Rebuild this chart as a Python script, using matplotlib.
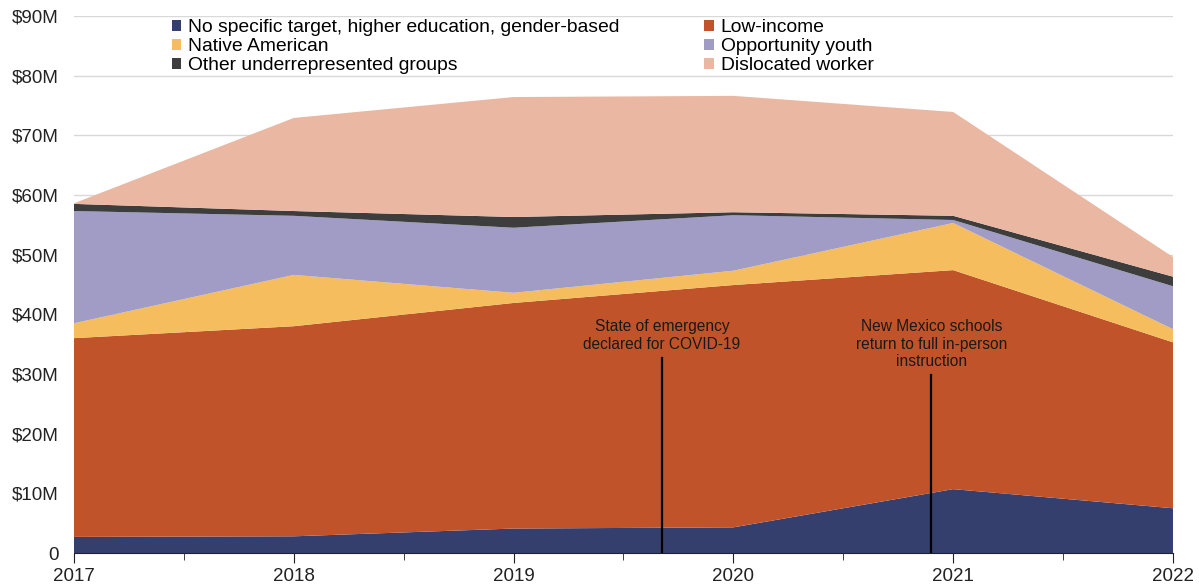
import matplotlib.pyplot as plt
from matplotlib.patches import Patch
from matplotlib.ticker import FuncFormatter, MultipleLocator

plt.rcParams['font.family'] = ['Liberation Sans', 'DejaVu Sans']

years = [2017, 2018, 2019, 2020, 2021, 2022]

# funding by target population, $M
no_specific = [2.7, 2.8, 4.1, 4.3, 10.7, 7.5]
low_income = [33.3, 35.2, 37.8, 40.6, 36.7, 27.8]
native_american = [2.5, 8.6, 1.7, 2.4, 7.9, 2.2]
opportunity_youth = [18.8, 9.9, 10.9, 9.3, 0.5, 7.2]
other_groups = [1.2, 0.8, 1.8, 0.5, 0.7, 1.6]
dislocated_worker = [0.1, 15.6, 20.1, 19.5, 17.4, 3.3]

labels = ["No specific target, higher education, gender-based", "Low-income",
          "Native American", "Opportunity youth",
          "Other underrepresented groups", "Dislocated worker"]
colors = ["#343f6e", "#c0532a", "#f5bd5e", "#a09cc5", "#3d3d3d", "#eab8a2"]

events = [(2019.675, 32.7, "State of emergency\ndeclared for COVID-19"),
          (2020.9, 29.8, "New Mexico schools\nreturn to full in-person\ninstruction")]

fig = plt.figure(figsize=(11.99, 5.88), dpi=100)
ax = fig.add_axes([0.0617, 0.0595, 0.9166, 0.9135])

series = [no_specific, low_income, native_american, opportunity_youth,
          other_groups, dislocated_worker]
ax.stackplot(years, *series, colors=colors, linewidth=0)

ax.set_xlim(2017, 2022)
ax.set_ylim(0, 90)
ax.yaxis.set_major_locator(MultipleLocator(10))
ax.yaxis.set_major_formatter(FuncFormatter(lambda v, p: "0" if v == 0 else f"${v:.0f}M"))
ax.set_xticks(years)
ax.xaxis.set_minor_locator(MultipleLocator(0.5))
ax.grid(axis='y', color='#d9d9d9', linewidth=1)
ax.set_axisbelow(True)

for s in ['top', 'right', 'left']:
    ax.spines[s].set_visible(False)
ax.spines['bottom'].set_color('#222222')
ax.tick_params(axis='y', length=0, labelsize=13.5, pad=11, colors='#222222')
ax.tick_params(axis='x', which='major', length=7, direction='out', labelsize=13.5,
               pad=4, colors='#222222')
ax.tick_params(axis='x', which='minor', length=5, direction='out', colors='#222222')

for x, top, txt in events:
    ax.plot([x, x], [0, top], color='black', linewidth=1.6, zorder=3)
    ax.text(x, top + 1.0, txt, ha='center', va='bottom', fontsize=11.2,
            color='#1a1a1a', linespacing=1.2, zorder=3)

order = [0, 2, 4, 1, 3, 5]
handles = [Patch(facecolor=colors[i], label=labels[i]) for i in order]
ax.legend(handles=handles, ncol=2, loc='upper left', bbox_to_anchor=(0.08, 1.012),
          frameon=False, fontsize=13.9, handlelength=0.5, handleheight=0.5,
          handletextpad=0.35, columnspacing=4.4, labelspacing=0.1, borderpad=0)

fig.savefig("out.png", dpi=100)
